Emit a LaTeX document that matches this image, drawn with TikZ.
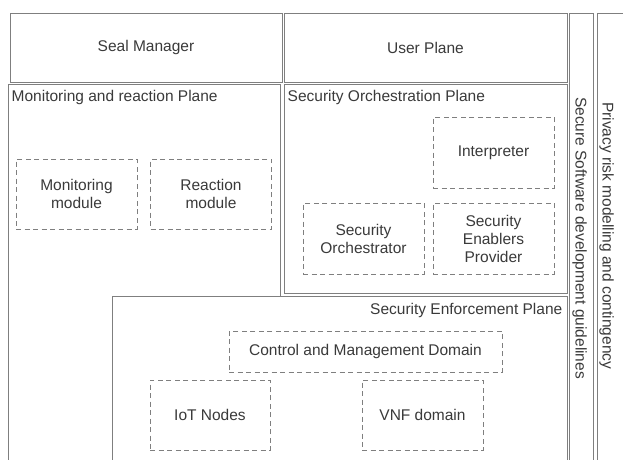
\documentclass[tikz,border=0pt]{standalone}
\usepackage{fontspec}
\setmainfont{Liberation Sans}
\usetikzlibrary{positioning}
\definecolor{linegray}{HTML}{7F7F7F}
\definecolor{textgray}{HTML}{3A3A3A}

\begin{document}
\begin{tikzpicture}[
  x=1pt, y=-1pt,
  every node/.style={font=\fontsize{15.5}{18}\selectfont, text=textgray},
  frame/.style={rectangle, draw=linegray, line width=1pt, fill=white, inner sep=0pt},
  module/.style={rectangle, draw=linegray, line width=1pt, dash pattern=on 5pt off 3.5pt, inner sep=0pt, minimum width=121pt, minimum height=70pt, align=center},
  planelabel/.style={inner sep=0pt, anchor=north west},
  sidelabel/.style={inner sep=0pt, rotate=-90, anchor=west},
]
\useasboundingbox (0,0) rectangle (623,459);
\fill[white] (0,0) rectangle (623,459);
\clip (0,0) rectangle (623,459);

% top row
\node[frame, minimum width=272pt, minimum height=69pt] (seal) at (146,47.5) {Seal Manager};
\node[frame, minimum width=283pt, minimum height=69pt] (user) at (425.5,47.5) {User Plane};

% side columns
\node[frame, minimum width=24pt, minimum height=467pt] (secure) at (581,246.5) {};
\node[frame, minimum width=43pt, minimum height=467pt] (privacy) at (618.5,246.5) {};
\node[sidelabel] (securetext) at (579.5,97) {Secure Software development guidelines};
\node[sidelabel] (privacytext) at (606.5,102) {Privacy risk modelling and contingency};

% planes
\node[frame, minimum width=272pt, minimum height=396pt] (monplane) at (144,282) {};
\node[frame, minimum width=283pt, minimum height=209pt] (orchplane) at (425.5,188.5) {};
\node[frame, minimum width=455pt, minimum height=184pt] (enfplane) at (339.5,388) {};
\node[planelabel] (monlabel) at ([xshift=4pt,yshift=-7pt]monplane.north west) {Monitoring and reaction Plane};
\node[planelabel] (orchlabel) at ([xshift=4pt,yshift=-7pt]orchplane.north west) {Security Orchestration Plane};
\node[planelabel, anchor=north east] (enflabel) at ([xshift=-5pt,yshift=-8pt]enfplane.north east) {Security Enforcement Plane};

% monitoring and reaction
\node[module] (monitor) at (76.5,194) {Monitoring\\module};
\node[module] (reaction) at (211,194) {Reaction\\module};

% orchestration
\node[module, minimum height=71pt] (interp) at (493.5,152.5) {Interpreter};
\node[module, minimum height=71pt] (orch) at (363.5,238.5) {Security\\Orchestrator};
\node[module, minimum height=71pt] (enablers) at (493.5,238.5) {Security\\Enablers\\Provider};

% enforcement
\node[module, minimum width=273pt, minimum height=41pt] (control) at (365.5,351.5) {Control and Management Domain};
\node[module, minimum width=120pt] (iot) at (210,415) {IoT Nodes};
\node[module] (vnf) at (422.5,415) {VNF domain};
\end{tikzpicture}
\end{document}
